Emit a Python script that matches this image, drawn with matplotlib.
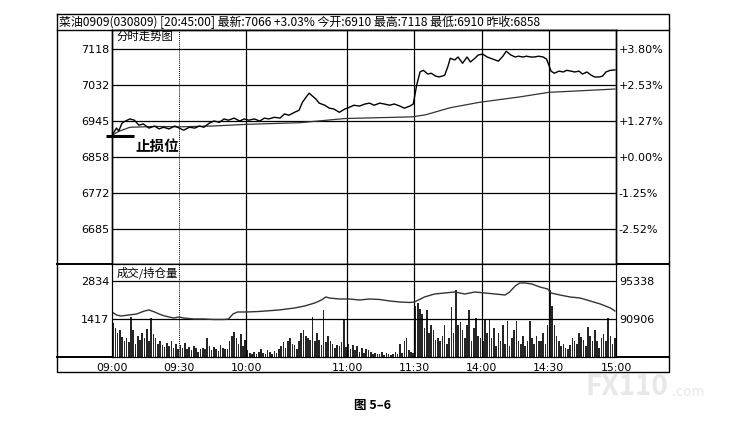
import numpy as np
import matplotlib
matplotlib.use("Agg")
import matplotlib.pyplot as plt

plt.rcParams['font.family'] = ['Noto Sans CJK SC', 'DejaVu Sans']

# ---- data ----
prev_close = 6858
price_ticks = [7118, 7032, 6945, 6858, 6772, 6685]
pct_labels = ['+3.80%', '+2.53%', '+1.27%', '+0.00%', '-1.25%', '-2.52%']
vol_ticks = [2834, 1417]
oi_ticks = [95338, 90906]

time_labels = ['09:00', '09:30', '10:00', '11:00', '11:30', '14:00', '14:30', '15:00']
time_minutes = [0, 30, 60, 105, 135, 165, 195, 225]   # minutes of trading since 09:00
total_minutes = 225

price_t = [0, 2, 3, 4.5, 6, 8, 10, 12, 14, 16.5, 19, 21, 23, 25.5, 28, 30, 32, 34.5, 37, 39,
           41, 43.5, 45.5, 48, 50, 52, 54.5, 57, 59, 61, 63.5, 66, 68, 70, 72.5, 75, 77, 79, 81.5,
           83.5, 85, 87, 88, 89.5, 91, 92.5, 95, 97, 99, 101.5, 104, 106, 108, 110.5, 113, 115,
           117, 119.5, 121.5, 124, 126, 128.5, 130.5, 133, 134.5, 136, 137.5, 139, 141, 142.5,
           144.5, 146, 148.5, 150, 151, 153, 154.5, 156.5, 158.5, 160, 162, 163.5, 165.5, 167.5,
           169, 171, 172.5, 174.5, 176, 178, 180, 181.5, 183.5, 185, 187, 188.5, 190.5, 192.5,
           194, 195, 196, 197.5, 199.5, 201.5, 203, 205, 206.5, 208.5, 210, 212, 214, 215.5,
           217.5, 219, 220.5, 222.5, 224.5]
price_v = [6911, 6928, 6921, 6940, 6945, 6950, 6947, 6935, 6938, 6928, 6933, 6926, 6930, 6926,
           6933, 6928, 6923, 6930, 6928, 6933, 6930, 6940, 6945, 6942, 6950, 6947, 6952, 6945,
           6950, 6947, 6950, 6945, 6952, 6950, 6954, 6952, 6962, 6959, 6966, 6971, 6990, 7005,
           7012, 7005, 6998, 6988, 6983, 6976, 6974, 6966, 6974, 6978, 6983, 6981, 6986, 6988,
           6983, 6988, 6986, 6983, 6986, 6981, 6976, 6981, 6986, 7031, 7063, 7067, 7058, 7060,
           7053, 7051, 7055, 7077, 7096, 7092, 7099, 7084, 7099, 7087, 7096, 7104, 7106, 7099,
           7096, 7092, 7089, 7101, 7113, 7104, 7099, 7101, 7099, 7101, 7099, 7099, 7101, 7099,
           7094, 7080, 7065, 7060, 7065, 7063, 7067, 7065, 7063, 7065, 7058, 7063, 7055, 7051,
           7051, 7053, 7063, 7067, 7068]

avg_t = [0, 3, 8, 20, 30, 45, 60, 84, 104, 134, 140, 151, 164, 182, 195, 210, 224.5]
avg_v = [6911, 6920, 6930, 6932, 6931, 6933, 6937, 6941, 6951, 6955, 6960, 6977, 6990, 7003,
         7014, 7018, 7022]

volume = [1250, 1100, 900, 1000, 750, 600, 700, 550, 1500, 1000, 500, 800, 650, 900, 700,
          1050, 600, 1450, 850, 700, 500, 600, 450, 380, 520, 400, 600, 350, 480, 300,
          450, 350, 520, 300, 380, 250, 420, 330, 200, 280, 350, 300, 700, 420, 250,
          380, 300, 220, 450, 350, 300, 280, 600, 800, 950, 700, 500, 850, 400, 650,
          250, 150, 120, 200, 100, 180, 300, 150, 120, 250, 180, 100, 220, 150, 300,
          400, 550, 350, 600, 700, 500, 450, 300, 600, 900, 1000, 800, 700, 650, 1500,
          600, 900, 650, 450, 1750, 550, 800, 600, 500, 350, 450, 400, 550, 1380, 380,
          500, 300, 450, 250, 400, 200, 350, 150, 300, 250, 200, 100, 150, 120, 100,
          180, 90, 150, 100, 80, 120, 200, 100, 500, 150, 600, 700, 250, 200, 150,
          1900, 2000, 1800, 1600, 1100, 1750, 900, 1200, 1000, 650, 700, 600, 800, 1200, 500,
          700, 1870, 900, 2500, 1200, 1300, 1000, 700, 1200, 1750, 600, 1100, 1450, 800, 700,
          600, 1400, 900, 1400, 700, 1100, 400, 900, 600, 1200, 500, 1350, 400, 700, 1000,
          1350, 600, 500, 800, 400, 600, 1350, 700, 500, 800, 600, 600, 900, 500, 1200,
          2500, 1900, 1200, 800, 600, 400, 500, 350, 300, 450, 700, 600, 500, 900, 750,
          650, 400, 1120, 800, 600, 1000, 600, 350, 700, 850, 600, 1450, 800, 500, 700]

oi_t = [0, 2, 4, 7.5, 11, 14.5, 16.5, 19, 21, 23.5, 25.5, 27.5, 30, 32, 36.5, 41, 45.5, 50, 52,
        54, 56, 60, 65.5, 74.5, 81.5, 86, 90.5, 93.5, 95.5, 97, 101.5, 106, 110.5, 115, 119.5,
        124, 128.5, 133, 135, 139.5, 144, 148.5, 153, 157.5, 162, 166.5, 171, 175.5, 177.5,
        180, 182, 184.5, 187.5, 191, 194.5, 196, 200, 204.5, 209, 213.5, 218, 222.5, 224.5]
oi_v = [91723, 91374, 91257, 91374, 91490, 91840, 91957, 91723, 91490, 91257, 91140, 91024,
        91140, 91024, 90907, 90907, 90850, 90850, 90907, 91490, 91723, 91723, 91780, 91957,
        92190, 92423, 92773, 93123, 93473, 93356, 93239, 93239, 93123, 93239, 93181, 93006,
        92890, 92832, 92890, 93473, 93822, 93939, 94056, 93822, 94056, 93939, 93822, 93706,
        94056, 94755, 95105, 95105, 94988, 94638, 94405, 93939, 93706, 93473, 93356, 93006,
        92656, 92190, 91840]

header = ('菜油0909(030809) [20:45:00] 最新:7066 +3.03% 今开:6910 '
          '最高:7118 最低:6910 昨收:6858')

W, H = 744, 422


def box(x0, y0, x1, y1):
    # pixel box (top-left origin) -> figure rect
    return [x0 / W, 1 - y1 / H, (x1 - x0) / W, (y1 - y0) / H]


fig = plt.figure(figsize=(W / 100, H / 100), dpi=100)
fig.patch.set_facecolor('white')

# frame drawn in pixel space
bg = fig.add_axes([0, 0, 1, 1])
bg.set_xlim(0, W)
bg.set_ylim(H, 0)
bg.axis('off')
frame_kw = dict(color='black', lw=1.0)
bg.plot([57, 669, 669, 57, 57], [14, 14, 372, 372, 14], **frame_kw)
bg.plot([57, 669], [30, 30], **frame_kw)
bg.plot([57, 669], [264, 264], lw=1.4, color='black')
bg.plot([57, 669], [357, 357], lw=1.4, color='black')
bg.text(59, 22, header, fontsize=8.6, va='center', ha='left')
bg.text(372, 405, '图 5–6', fontsize=9, ha='center', va='center', fontweight='bold')
bg.text(585, 387, 'FX110', fontsize=20, color='#e8e8e8', fontweight='bold',
        ha='left', va='center', zorder=0)
bg.text(672, 392, '.com', fontsize=10, color='#e8e8e8', ha='left', va='center', zorder=0)

grid_kw = dict(color='black', lw=0.9)

# ---- price panel ----
ax = fig.add_axes(box(112, 30, 616, 264))
ax.set_xlim(0, total_minutes)
ax.set_ylim(6601, 7164)
for p in price_ticks:
    ax.axhline(p, **grid_kw)
for t in time_minutes[1:-1]:
    if t == 30:
        ax.axvline(t, color='black', lw=0.7, ls=(0, (1, 1)))
    else:
        ax.axvline(t, **grid_kw)
ax.plot(avg_t, avg_v, color='#333333', lw=0.9)
ax.plot(price_t, price_v, color='black', lw=1.0)
ax.set_yticks(price_ticks)
ax.set_yticklabels([str(p) for p in price_ticks], fontsize=8, family='DejaVu Sans')
ax.tick_params(axis='y', length=0, pad=2)
ax.set_xticks([])
ax.text(2, 7148, '分时走势图', fontsize=8.2, va='center', ha='left')
ax2 = ax.twinx()
ax2.set_ylim(ax.get_ylim())
ax2.set_yticks(price_ticks)
ax2.set_yticklabels(pct_labels, fontsize=8, family='DejaVu Sans')
ax2.tick_params(axis='y', length=0, pad=2)
for a in (ax, ax2):
    for s in a.spines.values():
        s.set_linewidth(1.0)

# stop-loss marker
ax.plot([-2.5, 10], [6910, 6910], color='black', lw=2.2, clip_on=False, solid_capstyle='butt')
ax.text(10.5, 6885, '止损位', fontsize=10.5, fontweight='bold', va='center', ha='left')

# ---- volume / open interest panel ----
vx = fig.add_axes(box(112, 264, 616, 357))
vx.set_xlim(0, total_minutes)
vx.set_ylim(0, 3468)
for v in vol_ticks:
    vx.axhline(v, **grid_kw)
for t in time_minutes[1:-1]:
    if t == 30:
        vx.axvline(t, color='black', lw=0.7, ls=(0, (1, 1)))
    else:
        vx.axvline(t, **grid_kw)
vx.bar(np.arange(len(volume)) + 0.5, volume, width=0.7, color='#262626', linewidth=0)
vx.set_yticks(vol_ticks)
vx.set_yticklabels([str(v) for v in vol_ticks], fontsize=8, family='DejaVu Sans')
vx.tick_params(axis='y', length=0, pad=2)
vx.set_xticks(time_minutes)
vx.set_xticklabels(time_labels, fontsize=7.8, family='DejaVu Sans')
vx.tick_params(axis='x', length=0, pad=4)
vx.text(2, 3130, '成交/持仓量', fontsize=8.2, va='center', ha='left')

ox = vx.twinx()
oi_lo = oi_ticks[1] - (oi_ticks[0] - oi_ticks[1]) * vol_ticks[1] / (vol_ticks[0] - vol_ticks[1])
scale = (oi_ticks[0] - oi_ticks[1]) / (vol_ticks[0] - vol_ticks[1])
ox.set_ylim(oi_lo, oi_lo + 3468 * scale)
ox.plot(oi_t, oi_v, color='#333333', lw=1.0)
ox.set_yticks(oi_ticks)
ox.set_yticklabels([str(v) for v in oi_ticks], fontsize=8, family='DejaVu Sans')
ox.tick_params(axis='y', length=0, pad=2)
ox.set_xlim(0, total_minutes)

fig.savefig('out.png', dpi=100, facecolor='white')
